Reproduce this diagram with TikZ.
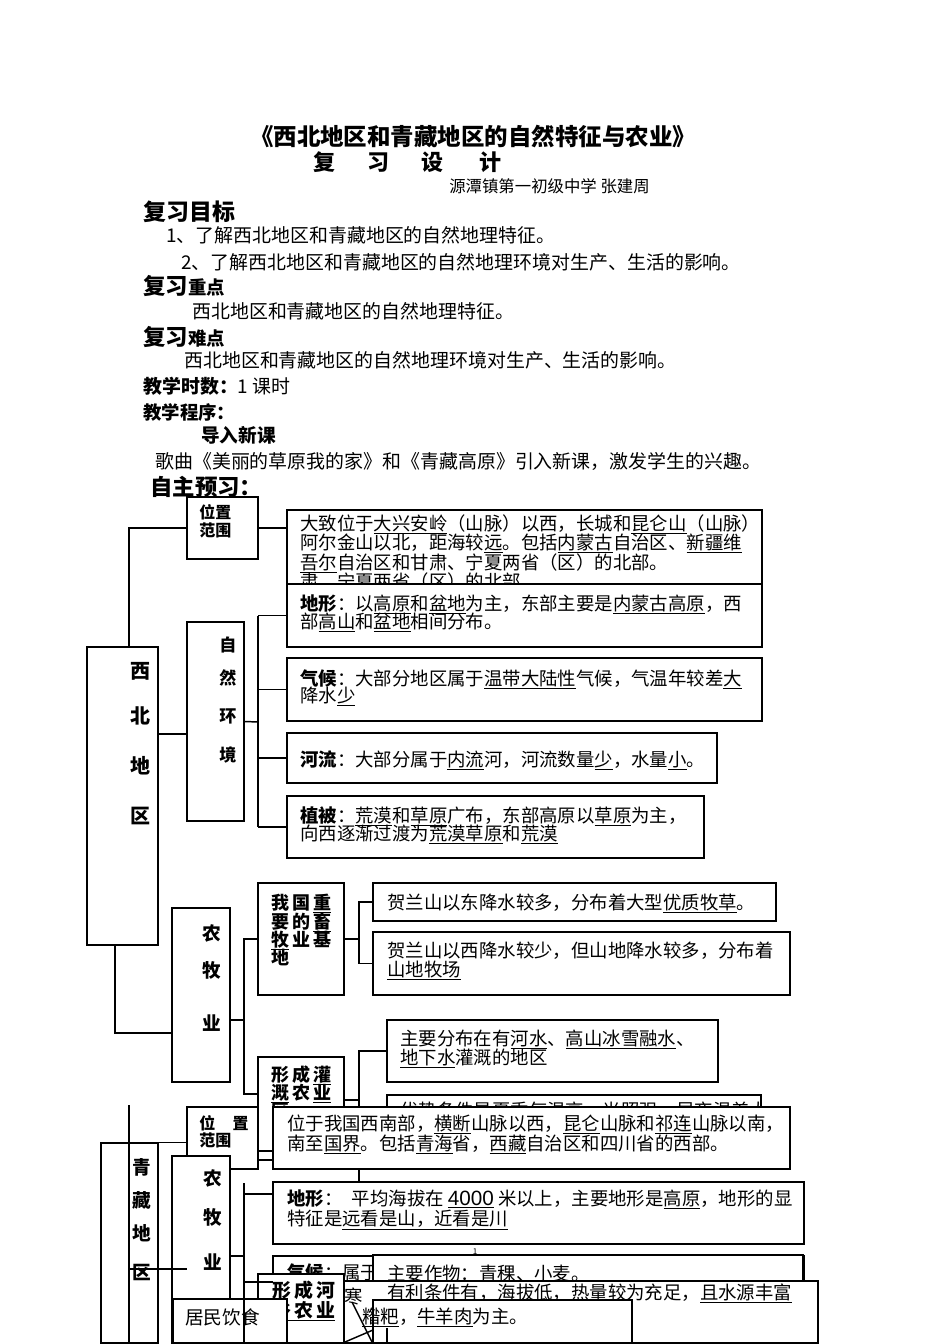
\documentclass[tikz,border=0pt]{standalone}
\usepackage{fontspec}
\setmainfont{Noto Sans CJK SC}
\newfontfamily\arialf{Liberation Sans}
\usetikzlibrary{fit}

\tikzset{
  box/.style={draw, line width=1.1pt, fill=white, inner sep=0pt},
  link/.style={line width=1.1pt},
  txt/.style={anchor=base west, inner sep=0pt, font=\fontsize{13.8}{14}\selectfont},
  ptxt/.style={anchor=base west, inner sep=0pt, font=\fontsize{14.2}{15}\selectfont},
  head/.style={anchor=base west, inner sep=0pt, font=\bfseries\fontsize{#1}{#1}\selectfont},
  ch/.style={inner sep=0pt, font=\bfseries\fontsize{#1}{#1}\selectfont},
}

\begin{document}
\begin{tikzpicture}[x=0.75pt, y=-0.75pt]
		\useasboundingbox (0,0) rectangle (950,1344);
		\clip (0,0) rectangle (950,1344);

		% Title and heading lines
		\node[anchor=base, inner sep=0pt, font=\bfseries\fontsize{17.6}{18}\selectfont] (T0) at (473,146) {《西北地区和青藏地区的自然特征与农业》};
		\node[head=16.5] (T1) at (313,171) {复\hspace{24pt}习\hspace{24pt}设\hspace{27pt}计};
		\node[txt, font=\fontsize{12.3}{13}\selectfont] (T2) at (449,193) {源潭镇第一初级中学 张建周};

		\node[head=17.2] (H1) at (143,221) {复习目标};
		\node[ptxt] (L1) at (166,243) {1、了解西北地区和青藏地区的自然地理特征。};
		\node[ptxt] (L2) at (181,270) {2、了解西北地区和青藏地区的自然地理环境对生产、生活的影响。};
		\node[head=16.8] (H2) at (143,295) {复习{\fontsize{13.8}{14}\selectfont 重点}};
		\node[ptxt] (L3) at (192,319) {西北地区和青藏地区的自然地理特征。};
		\node[head=16.8] (H3) at (143,345) {复习{\fontsize{13.8}{14}\selectfont 难点}};
		\node[ptxt] (L4) at (184,367) {西北地区和青藏地区的自然地理环境对生产、生活的影响。};
		\node[ptxt] (H4) at (143,393) {\textbf{教学时数：}1 课时};
		\node[head=13.8] (H5) at (143,419) {教学程序：};
		\node[head=14] (H6) at (201,442) {导入新课};
		\node[ptxt] (L5) at (155,468) {歌曲《美丽的草原我的家》和《青藏高原》引入新课，激发学生的兴趣。};
		\node[head=16.8] (H7) at (150,495) {自主预习：};

		% --- Northwest: location and natural setting ---
		\node[box, fit={(187,497) (258,559)}] (XW) {};
		\node[head=12] (XW1) at (199,518) {位置};
		\node[head=12] (XW2) at (199,536) {范围};

		\node[box, fit={(287,510) (762,600)}] (XWt) {};
		\node[txt] (XWt1) at (300,530) {大致位于\underline{大兴安岭}（山脉）以西，长城和\underline{昆仑山}（山脉）};
		\node[txt] (XWt2) at (300,549) {阿尔金山以北，距海较\underline{远}。包括\underline{内蒙古}自治区、\underline{新疆维}};
		\node[txt] (XWt3) at (300,569) {\underline{吾尔}自治区和甘肃、宁夏两省（区）的北部。};
		\node[txt] (XWt4) at (300,588) {肃、宁夏两省（区）的北部。};

		\node[box, fit={(287,584) (762,647)}] (XD) {};
		\node[txt] (XD1) at (300,610) {\textbf{地形}：以\underline{高原}和\underline{盆地}为主，东部主要是\underline{内蒙古高原}，西};
		\node[txt] (XD2) at (300,628) {部\underline{高山}和\underline{盆地}相间分布。};

		\node[box, fit={(287,658) (762,721)}] (XQ) {};
		\node[txt] (XQ1) at (300,685) {\textbf{气候}：大部分地区属于\underline{温带大陆性}气候，气温年较差\underline{大}};
		\node[txt] (XQ2) at (300,702) {降水\underline{少}};

		\node[box, fit={(287,733) (717,783)}] (XH) {};
		\node[txt] (XH1) at (300,766) {\textbf{河流}：大部分属于\underline{内流}河，河流数量\underline{少}，水量\underline{小}。};

		\node[box, fit={(287,796) (704,858)}] (XV) {};
		\node[txt] (XV1) at (300,822) {\textbf{植被}：\underline{荒漠}和\underline{草原}广布，东部高原以\underline{草原}为主，};
		\node[txt] (XV2) at (300,840) {向西逐渐过渡为\underline{荒漠草原}和\underline{荒漠}};

		\node[box, fit={(187,622) (244,821)}] (XZ) {};
		\node[ch=12.8] (XZ1) at (228,645) {自};
		\node[ch=12.8] (XZ2) at (228,678) {然};
		\node[ch=12.8] (XZ3) at (228,716) {环};
		\node[ch=12.8] (XZ4) at (228,755) {境};

		\node[box, fit={(87,647) (158,945)}] (XB) {};
		\node[ch=15] (XB1) at (140,671) {西};
		\node[ch=15] (XB2) at (140,716) {北};
		\node[ch=15] (XB3) at (140,766) {地};
		\node[ch=15] (XB4) at (140,816) {区};

		% Northwest connectors
		\coordinate (XZin) at (187,734);
		\coordinate (XZbr) at (258,722);
		\draw[link] ([xshift=5pt]XB.north) |- (XW.west);
		\draw[link] (XW.east) -- (XWt.west |- XW.east);
		\draw[link] (XB.east |- XZin) -- (XZin);
		\draw[link] (XZ.east) -- (XZbr);
		\draw[link] (XZbr |- XD.west) -- (XZbr |- XV.west);
		\foreach \b in {XD, XQ, XH, XV} {
				\draw[link] (XZbr |- \b.west) -- (\b.west);
			}

		% --- Northwest: farming and herding ---
		\node[box, fit={(172,908) (230,1082)}] (XN) {};
		\node[ch=14] (XN1) at (212,933) {农};
		\node[ch=14] (XN2) at (212,970) {牧};
		\node[ch=14] (XN3) at (212,1023) {业};

		\node[box, fit={(258,883) (344,995)}] (XM) {};
		\node[head=13.5] (XM1) at (271,909) {我\,国\,\underline{重}};
		\node[head=13.5] (XM2) at (271,928) {要\,的\,\underline{畜}};
		\node[head=13.5] (XM3) at (271,946) {\underline{牧}\,业\,基};
		\node[head=13.5] (XM4) at (271,964) {地};

		\node[box, fit={(373,883) (776,921)}] (XE) {};
		\node[txt] (XE1) at (387,909) {贺兰山以东降水较多，分布着大型\underline{优质牧草}。};

		\node[box, fit={(373,932) (790,995)}] (XF) {};
		\node[txt] (XF1) at (387,957) {贺兰山以西降水较少，但山地降水较多，分布着};
		\node[txt] (XF2) at (387,976) {\underline{山地牧场}};

		\node[box, fit={(387,1020) (718,1082)}] (XA) {};
		\node[txt] (XA1) at (400,1045) {主要分布在有\underline{河水}、\underline{高山冰雪融水}、};
		\node[txt] (XA2) at (400,1064) {\underline{地下水}灌溉的地区};

		\node[box, fit={(387,1095) (761,1160)}] (XY) {};
		\node[txt] (XY1) at (400,1117) {优势条件是夏季气温高、光照强、昼夜温差大};

		\node[box, fit={(258,1057) (344,1160)}] (XG) {};
		\node[head=13.5] (XG1) at (271,1081) {形\,成\,\underline{灌}};
		\node[head=13.5] (XG2) at (271,1099) {\underline{溉}\,农\,\underline{业}};
		\node[head=13.5] (XG3) at (271,1117) {区};

		% Farming connectors
		\coordinate (XNin) at (172,1033);
		\coordinate (XNbr) at (244,1020);
		\coordinate (XGin) at (258,1094);
		\coordinate (XMbr) at (359,939);
		\coordinate (XGbr) at (359,1100);
		\coordinate (XGbot) at (359,1182);
		\draw[link] ([xshift=-5.6pt]XB.south) |- (XNin);
		\draw[link] (XN.east |- XNbr) -- (XNbr);
		\draw[link] (XM.west) -| (XNbr |- XGin) -- (XGin);
		\draw[link] (XM.east) -- (XMbr |- XM.east);
		\draw[link] (XE.west) -| (XMbr |- XF.west) -- (XF.west);
		\draw[link] (XG.east |- XGbr) -- (XGbr);
		\draw[link] (XA.west) -| (XGbot);
		\draw[link] (XGbr |- XY.west) -- (XY.west);

		% --- Qinghai-Tibet ---
		\node[box, fit={(101,1143) (158,1343)}] (QB) {};
		\coordinate (QBtop) at (129,1105);
		\draw[link] (QBtop) -- (QBtop |- QB.south);
		\node[ch=14] (QB1) at (142,1167) {青};
		\node[ch=14] (QB2) at (142,1200) {藏};
		\node[ch=14] (QB3) at (142,1233) {地};
		\node[ch=14] (QB4) at (142,1272) {区};

		\node[box, fit={(187,1107) (258,1169)}] (QW) {};
		\node[head=12] (QW1) at (199,1129) {位\hspace{13pt}置};
		\node[head=12] (QW2) at (199,1146) {范围};
		\draw[link] (QB.north east) -- (QW.west |- QB.north);

		\node[box, fit={(273,1107) (790,1169)}] (QWt) {};
		\node[txt] (QWt1) at (287,1130) {位于我国西南部，\underline{横断}山脉以西，\underline{昆仑}山脉和\underline{祁连}山脉以南，};
		\node[txt] (QWt2) at (287,1150) {南至\underline{国界}。包括\underline{青海}省，\underline{西藏}自治区和四川省的西部。};
		\draw[link] ([yshift=-9.75pt]QW.east) -- ([yshift=-9.75pt]QW.east -| QWt.west);

		\node[box, fit={(172,1156) (230,1343)}] (QN) {};
		\node[ch=14] (QN1) at (213,1178) {农};
		\node[ch=14] (QN2) at (213,1217) {牧};
		\node[ch=14] (QN3) at (213,1262) {业};

		\node[box, fit={(273,1182) (804,1244)}] (QD) {};
		\node[txt] (QD1) at (287,1205) {\textbf{地形}：\hspace{7pt}平均海拔在 {\arialf\fontsize{15.5}{16}\selectfont\underline{4000}} 米以上，主要地形是\underline{高原}，地形的显};
		\node[txt] (QD2) at (287,1225) {特征是\underline{远看是山，近看是川}};
		\node[inner sep=0pt, font=\fontsize{6}{6}\selectfont] (pg) at (475,1252) {1};

		\node[box, fit={(273,1256) (804,1343)}] (QQ) {};
		\node[txt] (QQ1) at (287,1279) {\textbf{气候}：属于};

		\node[box, fit={(373,1255) (803,1343)}] (QZ) {};
		\node[txt] (QZ1) at (387,1280) {主要作物：青稞、小麦。};

		\node[box, fit={(344,1281) (818,1343)}] (QL) {};
		\node[txt] (QL1) at (387,1299) {有利条件有，海拔低，热量较为充足，\underline{且水源丰富}};
		\node[inner sep=0pt, font=\fontsize{13.8}{14}\selectfont] (QQ2) at (354,1296) {寒};

		\node[box, fit={(373,1300) (632,1343)}] (QJt) {};
		\node[txt] (QJt1) at (362,1323) {\underline{糌粑}，\underline{牛羊肉}为主。};

		\node[box, fit={(258,1274) (344,1343)}] (QR) {};
		\node[head=14.2] (QR1) at (272,1297) {形\,成\,河};
		\node[head=14.2] (QR2) at (272,1317) {\underline{谷\,农\,业}};

		\node[box, fit={(173,1299) (287,1343)}] (QJ) {};
		\node[txt, font=\fontsize{14}{14}\selectfont] (QJ1) at (185,1324) {居民饮食};

		% Qinghai-Tibet connectors
		\coordinate (QNin) at (187,1269);
		\coordinate (QNbr) at (244,1256);
		\coordinate (QNtop) at (244,1183);
		\coordinate (QDin) at (273,1194);
		\coordinate (QRin) at (273,1282);
		\draw[link] (QBtop |- QNin) -- (QNin);
		\draw[link] (QN.east |- QNbr) -- (QNbr);
		\draw[link] (QNtop) -- (QNtop |- QN.south);
		\draw[link] (QNtop |- QDin) -- (QDin);
		\draw[link] (QNtop |- QRin) -- (QRin);
		\draw[link] (352,1302) -- (373,1344);
		\draw[link] (345,1342) -- (373,1330);
		\draw[link] (387,1328) -- (387,1344);

	\end{tikzpicture}
\end{document}
